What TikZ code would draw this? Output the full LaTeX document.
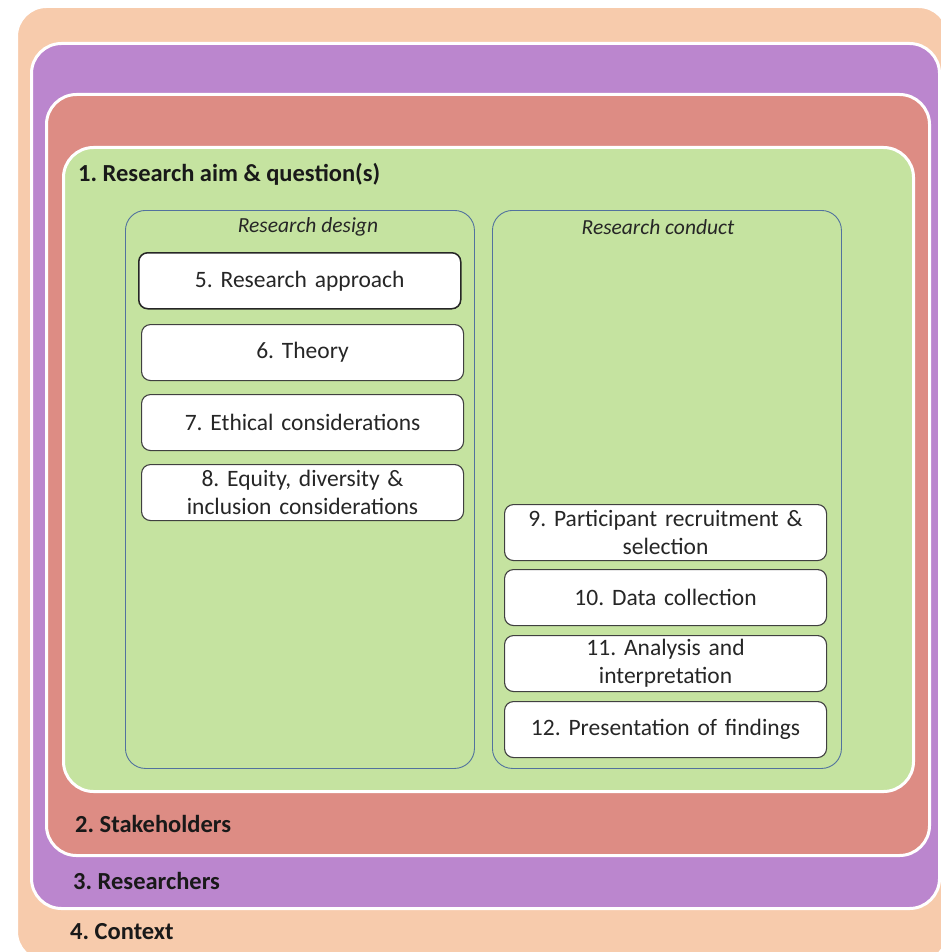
\documentclass[tikz,border=0pt]{standalone}
\usepackage{fontspec}
\setmainfont{Carlito}
\definecolor{peach}{HTML}{F7CBAC}
\definecolor{lilac}{HTML}{BB86CE}
\definecolor{rosered}{HTML}{DD8C84}
\definecolor{leaf}{HTML}{C5E3A0}
\definecolor{groupline}{HTML}{52729E}
\begin{document}
\frenchspacing
\begin{tikzpicture}[x=1pt,y=-1pt,
  layer/.style={draw=white, line width=3pt, rounded corners=30pt, inner sep=0pt, anchor=north west},
  layerlabel/.style={anchor=west, inner sep=0pt, font=\fontsize{24.5}{26}\selectfont\bfseries, text=black!90},
  group/.style={draw=groupline, line width=0.9pt, rounded corners=20pt, inner sep=0pt, anchor=north west, minimum width=349pt, minimum height=558pt},
  grouptitle/.style={inner sep=0pt, font=\fontsize{21.5}{22}\selectfont\itshape, text=black!85},
  itembox/.style={draw=black!75, line width=1.1pt, fill=white, rounded corners=9pt, inner sep=0pt, anchor=north west, minimum width=322pt, minimum height=56pt, align=center, text width=310pt, font=\fontsize{23.5}{28}\selectfont, text=black!85}
]
\useasboundingbox (0,0) rectangle (940,952);
\fill[white] (0,0) rectangle (940,952);
% layers
\node[layer, fill=peach, minimum width=932pt, minimum height=955pt] (context) at (15,5) {};
\node[layer, fill=lilac, minimum width=908pt, minimum height=865pt] (researchers) at (30,42) {};
\node[layer, fill=rosered, minimum width=883pt, minimum height=761pt] (stakeholders) at (45,93) {};
\node[layer, fill=leaf, minimum width=850pt, minimum height=644pt] (aim) at (62,146) {};
% layer labels
\node[layerlabel] (aimlabel) at (78,174) {1. Research aim \& question(s)};
\node[layerlabel] (stakelabel) at (75,824) {2. Stakeholders};
\node[layerlabel] (reslabel) at (73,881) {3. Researchers};
\node[layerlabel] (ctxlabel) at (70,932) {4. Context};
% groups
\node[group] (design) at (125,210) {};
\node[group] (conduct) at (492,210) {};
\node[grouptitle] (designtitle) at (308,227) {Research design};
\node[grouptitle] (conducttitle) at (658,227) {Research conduct};
% design items
\node[itembox, line width=1.5pt, draw=black!85] (b5) at (138,252) {5. Research approach};
\node[itembox] (b6) at (141,324) {6. Theory};
\node[itembox] (b7) at (141,394) {7. Ethical considerations};
\node[itembox] (b8) at (141,464) {8. Equity, diversity \&\\inclusion considerations};
% conduct items
\node[itembox] (b9) at (504,504) {9. Participant recruitment \&\\selection};
\node[itembox] (b10) at (504,569) {10. Data collection};
\node[itembox] (b11) at (504,635) {11. Analysis and\\interpretation};
\node[itembox] (b12) at (504,701) {12. Presentation of findings};
\end{tikzpicture}
\end{document}
